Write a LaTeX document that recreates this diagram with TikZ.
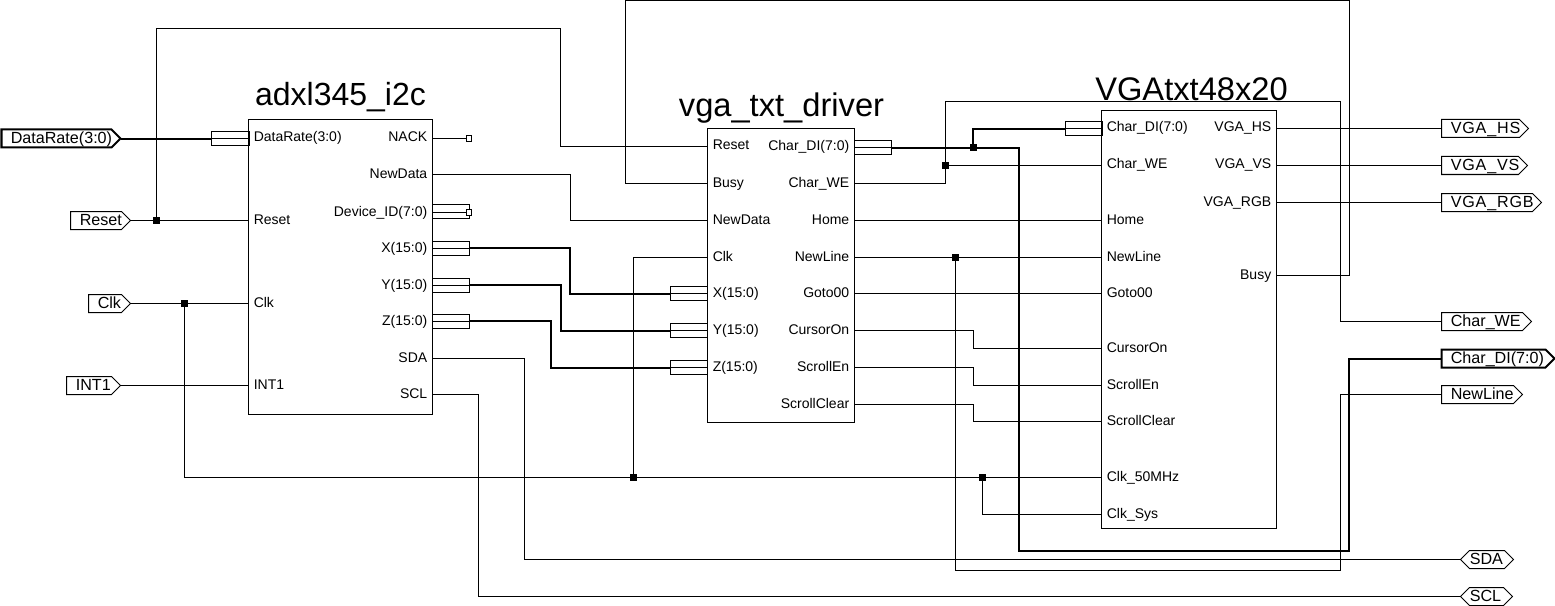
\documentclass[tikz,border=0pt]{standalone}
\usepackage{fontspec}
\setmainfont{Liberation Sans}
\newcommand{\pinfont}{\fontsize{10.5pt}{12pt}\selectfont}
\newcommand{\tagfont}{\fontsize{12.1pt}{13pt}\selectfont}
\newcommand{\titlefont}{\fontsize{24pt}{26pt}\selectfont}
\newcommand{\titlefontb}{\fontsize{24.5pt}{26pt}\selectfont}
\tikzset{
  x=0.75pt,y=-0.75pt,
  wire/.style={draw=black,line width=0.75pt},
  bus/.style={draw=black,line width=1.5pt},
  block/.style={draw=black,line width=0.75pt,fill=none},
  pinl/.style={font=\pinfont,anchor=base west,inner sep=0pt},
  pinr/.style={font=\pinfont,anchor=base east,inner sep=0pt},
  title/.style={font=\titlefont,inner sep=0pt,anchor=base},
  titleb/.style={font=\titlefontb,inner sep=0pt,anchor=base},
  dot/.style={fill=black,draw=none,minimum size=5.25pt,inner sep=0pt,shape=rectangle},
  busbox/.style={draw=black,line width=0.75pt,fill=none},
  opendot/.style={draw=black,line width=0.75pt,fill=white,minimum size=4pt,inner sep=0pt,shape=rectangle},
  tagtext/.style={font=\tagfont,inner sep=0pt,anchor=base west},
  tagline/.style={draw=black,line width=0.75pt,line join=miter},
  tagbus/.style={draw=black,line width=1.5pt,line join=miter},
}
% \tagR{name}{left x}{right x}{y}{text}{style}
\newcommand{\tagR}[6]{%
  \draw[#6] (#2,#4-9) -- (#3-9,#4-9) -- (#3,#4) -- (#3-9,#4+9) -- (#2,#4+9) -- cycle;
  \coordinate (#1) at (#2,#4);
  \coordinate (#1e) at (#3,#4);
  \node[tagtext] (#1t) at (#2+9,#4+5) {#5};
}
% \busB{left x}{right x}{y}
\newcommand{\busB}[3]{\draw[busbox] (#1,#3-7) rectangle (#2,#3+7);}
\begin{document}
\begin{tikzpicture}
\useasboundingbox (0,0) rectangle (1555,606);
\begin{scope}[shift={(0.5,0.5)}]
% blocks
\node[title] (ta) at (340,105) {adxl345\_i2c};
\node[titleb] (tb) at (781,116) {vga\_txt\_driver};
\node[titleb] (tc) at (1191,100) {VGAtxt48x20};
\draw[block] (248,119) rectangle (432,414);
\draw[block] (707,128) rectangle (854,422);
\draw[block] (1101,110) rectangle (1276,528);
% pin coordinates: block A
\foreach \n/\y/\t in {DR/138/DataRate(3:0),Rs/220/Reset,Ck/303/Clk,In/385/INT1}{
  \coordinate (aL\n) at (248,\y);
  \node[pinl] at (253,\y+3.5) {\t};
}
\foreach \n/\y/\t in {NA/138/NACK,ND/174/NewData,ID/212/Device\_ID(7:0),X/248/X(15:0),Y/285/Y(15:0),Z/321/Z(15:0),SD/358/SDA,SC/394/SCL}{
  \coordinate (aR\n) at (432,\y);
  \node[pinr] at (427,\y+3.5) {\t};
}
% block B
\foreach \n/\y/\t in {Rs/146/Reset,Bu/183/Busy,ND/220/NewData,Ck/257/Clk,X/293/X(15:0),Y/330/Y(15:0),Z/367/Z(15:0)}{
  \coordinate (bL\n) at (707,\y);
  \node[pinl] at (712,\y+3.5) {\t};
}
\foreach \n/\y/\t in {DI/147/Char\_DI(7:0),WE/183/Char\_WE,Ho/220/Home,NL/257/NewLine,Go/293/Goto00,CO/330/CursorOn,SE/367/ScrollEn,SK/404/ScrollClear}{
  \coordinate (bR\n) at (854,\y);
  \node[pinr] at (849,\y+3.5) {\t};
}
% block C
\foreach \n/\y/\t in {DI/128/Char\_DI(7:0),WE/165/Char\_WE,Ho/220/Home,NL/257/NewLine,Go/293/Goto00,CO/348/CursorOn,SE/385/ScrollEn,SK/421/ScrollClear,CM/477/Clk\_50MHz,CS/514/Clk\_Sys}{
  \coordinate (cL\n) at (1101,\y);
  \node[pinl] at (1106,\y+3.5) {\t};
}
\foreach \n/\y/\t in {HS/128/VGA\_HS,VS/165/VGA\_VS,RG/202/VGA\_RGB,Bu/275/Busy}{
  \coordinate (cR\n) at (1276,\y);
  \node[pinr] at (1271,\y+3.5) {\t};
}
% tags
\tagR{tDR}{1}{120}{138}{DataRate(3:0)}{tagbus}
\tagR{tRs}{70}{130}{220}{Reset}{tagline}
\tagR{tCk}{88}{130}{303}{Clk}{tagline}
\tagR{tIn}{66}{120}{385}{INT1}{tagline}
\tagR{tHS}{1441}{1528}{128}{\addfontfeatures{LetterSpace=5}VGA\_HS}{tagline}
\tagR{tVS}{1441}{1527}{165}{\addfontfeatures{LetterSpace=5}VGA\_VS}{tagline}
\tagR{tRG}{1441}{1541}{202}{\addfontfeatures{LetterSpace=5}VGA\_RGB}{tagline}
\tagR{tWE}{1441}{1531}{321}{Char\_WE}{tagline}
\tagR{tDI}{1441}{1554}{358}{Char\_DI(7:0)}{tagbus}
\tagR{tNL}{1441}{1522}{394}{NewLine}{tagline}
% bidirectional tags
\foreach \n/\x/\xb/\y/\t in {tSD/1460/1513/559/SDA,tSC/1460/1512/596/SCL}{
  \draw[tagline] (\x,\y) -- (\x+9,\y-9) -- (\xb-9,\y-9) -- (\xb,\y) -- (\xb-9,\y+9) -- (\x+9,\y+9) -- cycle;
  \coordinate (\n) at (\x,\y);
  \node[tagtext] at (\x+9,\y+5) {\t};
}
% bus boxes
\busB{211}{249}{138}
\busB{432}{469}{211}
\busB{432}{469}{248}
\busB{432}{469}{285}
\busB{432}{469}{321}
\busB{670}{707}{293}
\busB{670}{707}{330}
\busB{670}{707}{367}
\busB{854}{891}{147}
\busB{1065}{1102}{128}
% single wires
\draw[wire] (tRse) -- (aLRs);
\draw[wire] (tCke) -- (aLCk);
\draw[wire] (tIne) -- (aLIn);
\node[dot] (j1) at (156,220) {};
\draw[wire] (j1) -- (156,28) -- (560,28) -- (560,146) -- (bLRs);
\node[dot] (j2) at (184,303) {};
\draw[wire] (j2) -- (184,477) -- (cLCM);
\node[dot] (j3) at (633,477) {};
\draw[wire] (j3) -- (633,257) -- (bLCk);
\node[dot] (j4) at (982,477) {};
\draw[wire] (j4) -- (982,514) -- (cLCS);
\node[opendot] (o1) at (468.5,138) {};
\node[opendot] (o2) at (468.5,212) {};
\draw[wire] (aRNA) -- (o1);
\draw[wire] (aRID) -- (o2);
\draw[wire] (aRND) -- (570,174) -- (570,220) -- (bLND);
\draw[wire] (aRSD) -- (524,358) -- (524,559) -- (tSD);
\draw[wire] (aRSC) -- (478,394) -- (478,596) -- (tSC);
\draw[wire] (bRWE) -- (945,183) -- (945,101) -- (1340,101) -- (1340,321) -- (tWE);
\node[dot] (j5) at (945,165) {};
\draw[wire] (j5) -- (cLWE);
\draw[wire] (cRBu) -- (1349,275) -- (1349,0) -- (625,0) -- (625,183) -- (bLBu);
\draw[wire] (bRHo) -- (cLHo);
\draw[wire] (bRNL) -- (cLNL);
\draw[wire] (bRGo) -- (cLGo);
\node[dot] (j6) at (955,257) {};
\draw[wire] (j6) -- (955,570) -- (1340,570) -- (1340,394) -- (tNL);
\draw[wire] (bRCO) -- (973,330) -- (973,348) -- (cLCO);
\draw[wire] (bRSE) -- (973,367) -- (973,385) -- (cLSE);
\draw[wire] (bRSK) -- (973,404) -- (973,421) -- (cLSK);
\draw[wire] (cRHS) -- (tHS);
\draw[wire] (cRVS) -- (tVS);
\draw[wire] (cRRG) -- (tRG);
% bus stubs through boxes
\draw[wire] (211,138) -- (aLDR);
\draw[wire] (aRX) -- (469,248);
\draw[wire] (aRY) -- (469,285);
\draw[wire] (aRZ) -- (469,321);
\draw[wire] (670,293) -- (bLX);
\draw[wire] (670,330) -- (bLY);
\draw[wire] (670,367) -- (bLZ);
\draw[wire] (bRDI) -- (891,147);
\draw[wire] (1065,128) -- (cLDI);
\end{scope}
% buses
\begin{scope}[shift={(1,1)}]
\draw[bus] (120,138) -- (211,138);
\draw[bus] (469,247) -- (569,247) -- (569,293) -- (670,293);
\draw[bus] (469,284) -- (560,284) -- (560,330) -- (670,330);
\draw[bus] (469,320) -- (550,320) -- (550,367) -- (670,367);
\draw[bus] (891,147) -- (1018,147) -- (1018,550) -- (1348,550) -- (1348,358) -- (1441,358);
\node[dot] (j7) at (972,147) {};
\draw[bus] (j7) -- (972,128) -- (1065,128);
\end{scope}
\end{tikzpicture}
\end{document}
